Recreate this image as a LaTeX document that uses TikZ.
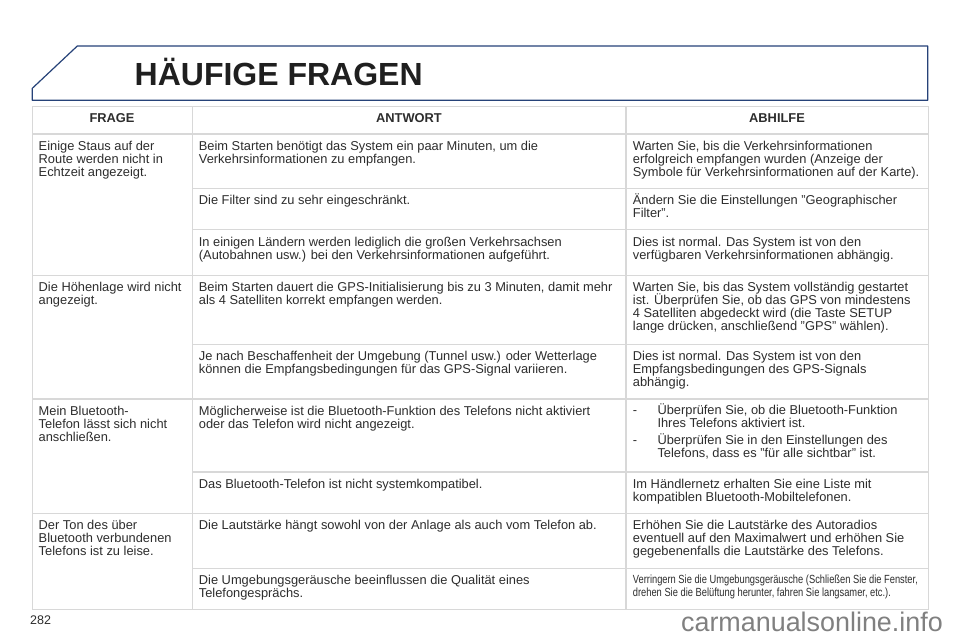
\documentclass[tikz,border=0pt]{standalone}
\usepackage{fontspec}
\setmainfont{Liberation Sans}
\newfontfamily\condfont[FakeStretch=0.79]{Liberation Sans}
\definecolor{titleblue}{RGB}{38,66,120}
\definecolor{gridgrey}{RGB}{216,216,216}
\definecolor{bodytext}{RGB}{45,45,45}
\definecolor{markgrey}{RGB}{128,128,128}
\tikzset{
  x=1pt,y=-1pt,
  gridline/.style={draw=gridgrey,line width=1.3pt},
  titleframe/.style={draw=titleblue,line width=1.2pt,line join=round},
  celltext/.style={anchor=north west,inner sep=0pt,align=left,text=bodytext,font=\fontsize{12.85}{13}\selectfont},
  headtext/.style={anchor=base,inner sep=0pt,text=bodytext,font=\fontsize{12.85}{13}\selectfont\bfseries},
}
\newcommand{\cellstrut}{\rule{0pt}{12pt}}
\begin{document}
\begin{tikzpicture}
\useasboundingbox (0,0) rectangle (960,640);
\fill[white] (0,0) rectangle (960,640);
\draw[titleframe] (32.3,88.3) -- (77.3,46) -- (927.7,46) -- (927.7,100.3) -- (32.3,100.3) -- cycle;
\node[anchor=base west,inner sep=0pt,text=black!88,font=\fontsize{32}{36}\selectfont\bfseries] (title) at (134.5,85) {HÄUFIGE FRAGEN};
% grid
\draw[gridline] (32.3,106.3) rectangle (928.3,609.3);
\draw[gridline] (192.3,106.3) -- (192.3,609.3);
\draw[gridline] (626,106.3) -- (626,609.3);
\foreach \yy in {134,275.3,399,513.5} \draw[gridline] (32.3,\yy) -- (928.3,\yy);
\foreach \yy in {188.7,229.3,344.7,472,568.7} \draw[gridline] (192.3,\yy) -- (928.3,\yy);
% header
\node[headtext] (h1) at (112,122.7) {FRAGE};
\node[headtext] (h2) at (409,122.7) {ANTWORT};
\node[headtext] (h3) at (777,122.7) {ABHILFE};
% col 1
\node[celltext] (q1) at (38.5,138) {\cellstrut Einige Staus auf der\\Route werden nicht in\\Echtzeit angezeigt.};
\node[celltext] (q2) at (38.5,279.7) {\cellstrut Die Höhenlage wird nicht\\angezeigt.};
\node[celltext] (q3) at (38.5,403) {\cellstrut Mein Bluetooth-\\Telefon lässt sich nicht\\anschließen.};
\node[celltext] (q4) at (38.5,517.3) {\cellstrut Der Ton des über\\Bluetooth verbundenen\\Telefons ist zu leise.};
% col 2
\node[celltext] (a1) at (198.7,138) {\cellstrut Beim Starten benötigt das System ein paar Minuten, um die\\Verkehrsinformationen zu empfangen.};
\node[celltext] (a2) at (198.7,192.7) {\cellstrut Die Filter sind zu sehr eingeschränkt.};
\node[celltext] (a3) at (198.7,234) {\cellstrut In einigen Ländern werden lediglich die großen Verkehrsachsen\\(Autobahnen usw.) bei den Verkehrsinformationen aufgeführt.};
\node[celltext] (a4) at (198.7,279.7) {\cellstrut Beim Starten dauert die GPS-Initialisierung bis zu 3 Minuten, damit mehr\\als 4 Satelliten korrekt empfangen werden.};
\node[celltext] (a5) at (198.7,348) {\cellstrut Je nach Beschaffenheit der Umgebung (Tunnel usw.) oder Wetterlage\\können die Empfangsbedingungen für das GPS-Signal variieren.};
\node[celltext] (a6) at (198.7,403) {\cellstrut Möglicherweise ist die Bluetooth-Funktion des Telefons nicht aktiviert\\oder das Telefon wird nicht angezeigt.};
\node[celltext] (a7) at (198.7,476.3) {\cellstrut Das Bluetooth-Telefon ist nicht systemkompatibel.};
\node[celltext] (a8) at (198.7,517.3) {\cellstrut Die Lautstärke hängt sowohl von der Anlage als auch vom Telefon ab.};
\node[celltext] (a9) at (198.7,572.3) {\cellstrut Die Umgebungsgeräusche beeinflussen die Qualität eines\\Telefongesprächs.};
% col 3
\node[celltext] (r1) at (632.7,138) {\cellstrut Warten Sie, bis die Verkehrsinformationen\\erfolgreich empfangen wurden (Anzeige der\\Symbole für Verkehrsinformationen auf der Karte).};
\node[celltext] (r2) at (632.7,192.7) {\cellstrut Ändern Sie die Einstellungen "Geographischer\\Filter".};
\node[celltext] (r3) at (632.7,234) {\cellstrut Dies ist normal. Das System ist von den\\verfügbaren Verkehrsinformationen abhängig.};
\node[celltext] (r4) at (632.7,279.7) {\cellstrut Warten Sie, bis das System vollständig gestartet};
\node[celltext] (r4b) at (632.7,292.7) {\cellstrut ist. Überprüfen Sie, ob das GPS von mindestens\\4 Satelliten abgedeckt wird (die Taste SETUP\\lange drücken, anschließend "GPS" wählen).};
\node[celltext] (r5) at (632.7,348) {\cellstrut Dies ist normal. Das System ist von den\\Empfangsbedingungen des GPS-Signals\\abhängig.};
\node[celltext] (r6d) at (632.7,402.7) {\cellstrut -};
\node[celltext] (r6) at (657.3,402.7) {\cellstrut Überprüfen Sie, ob die Bluetooth-Funktion\\Ihres Telefons aktiviert ist.};
\node[celltext] (r7d) at (632.7,432.3) {\cellstrut -};
\node[celltext] (r7) at (657.3,432.3) {\cellstrut Überprüfen Sie in den Einstellungen des\\Telefons, dass es "für alle sichtbar" ist.};
\node[celltext] (r8) at (632.7,476.3) {\cellstrut Im Händlernetz erhalten Sie eine Liste mit\\kompatiblen Bluetooth-Mobiltelefonen.};
\node[celltext] (r9) at (632.7,517.3) {\cellstrut Erhöhen Sie die Lautstärke des Autoradios\\eventuell auf den Maximalwert und erhöhen Sie\\gegebenenfalls die Lautstärke des Telefons.};
\node[celltext,font=\fontsize{11.8}{13.3}\condfont] (r10) at (632.7,571.3) {\cellstrut Verringern Sie die Umgebungsgeräusche (Schließen Sie die Fenster,\\drehen Sie die Belüftung herunter, fahren Sie langsamer, etc.).};
% page number and mark
\node[anchor=base west,inner sep=0pt,text=bodytext,font=\fontsize{12.5}{14}\selectfont] (page) at (30,624) {282};
\node[anchor=base east,inner sep=0pt,text=markgrey,font=\fontsize{26.9}{28}\selectfont] (mark) at (943,631) {carmanualsonline.info};
\end{tikzpicture}
\end{document}
